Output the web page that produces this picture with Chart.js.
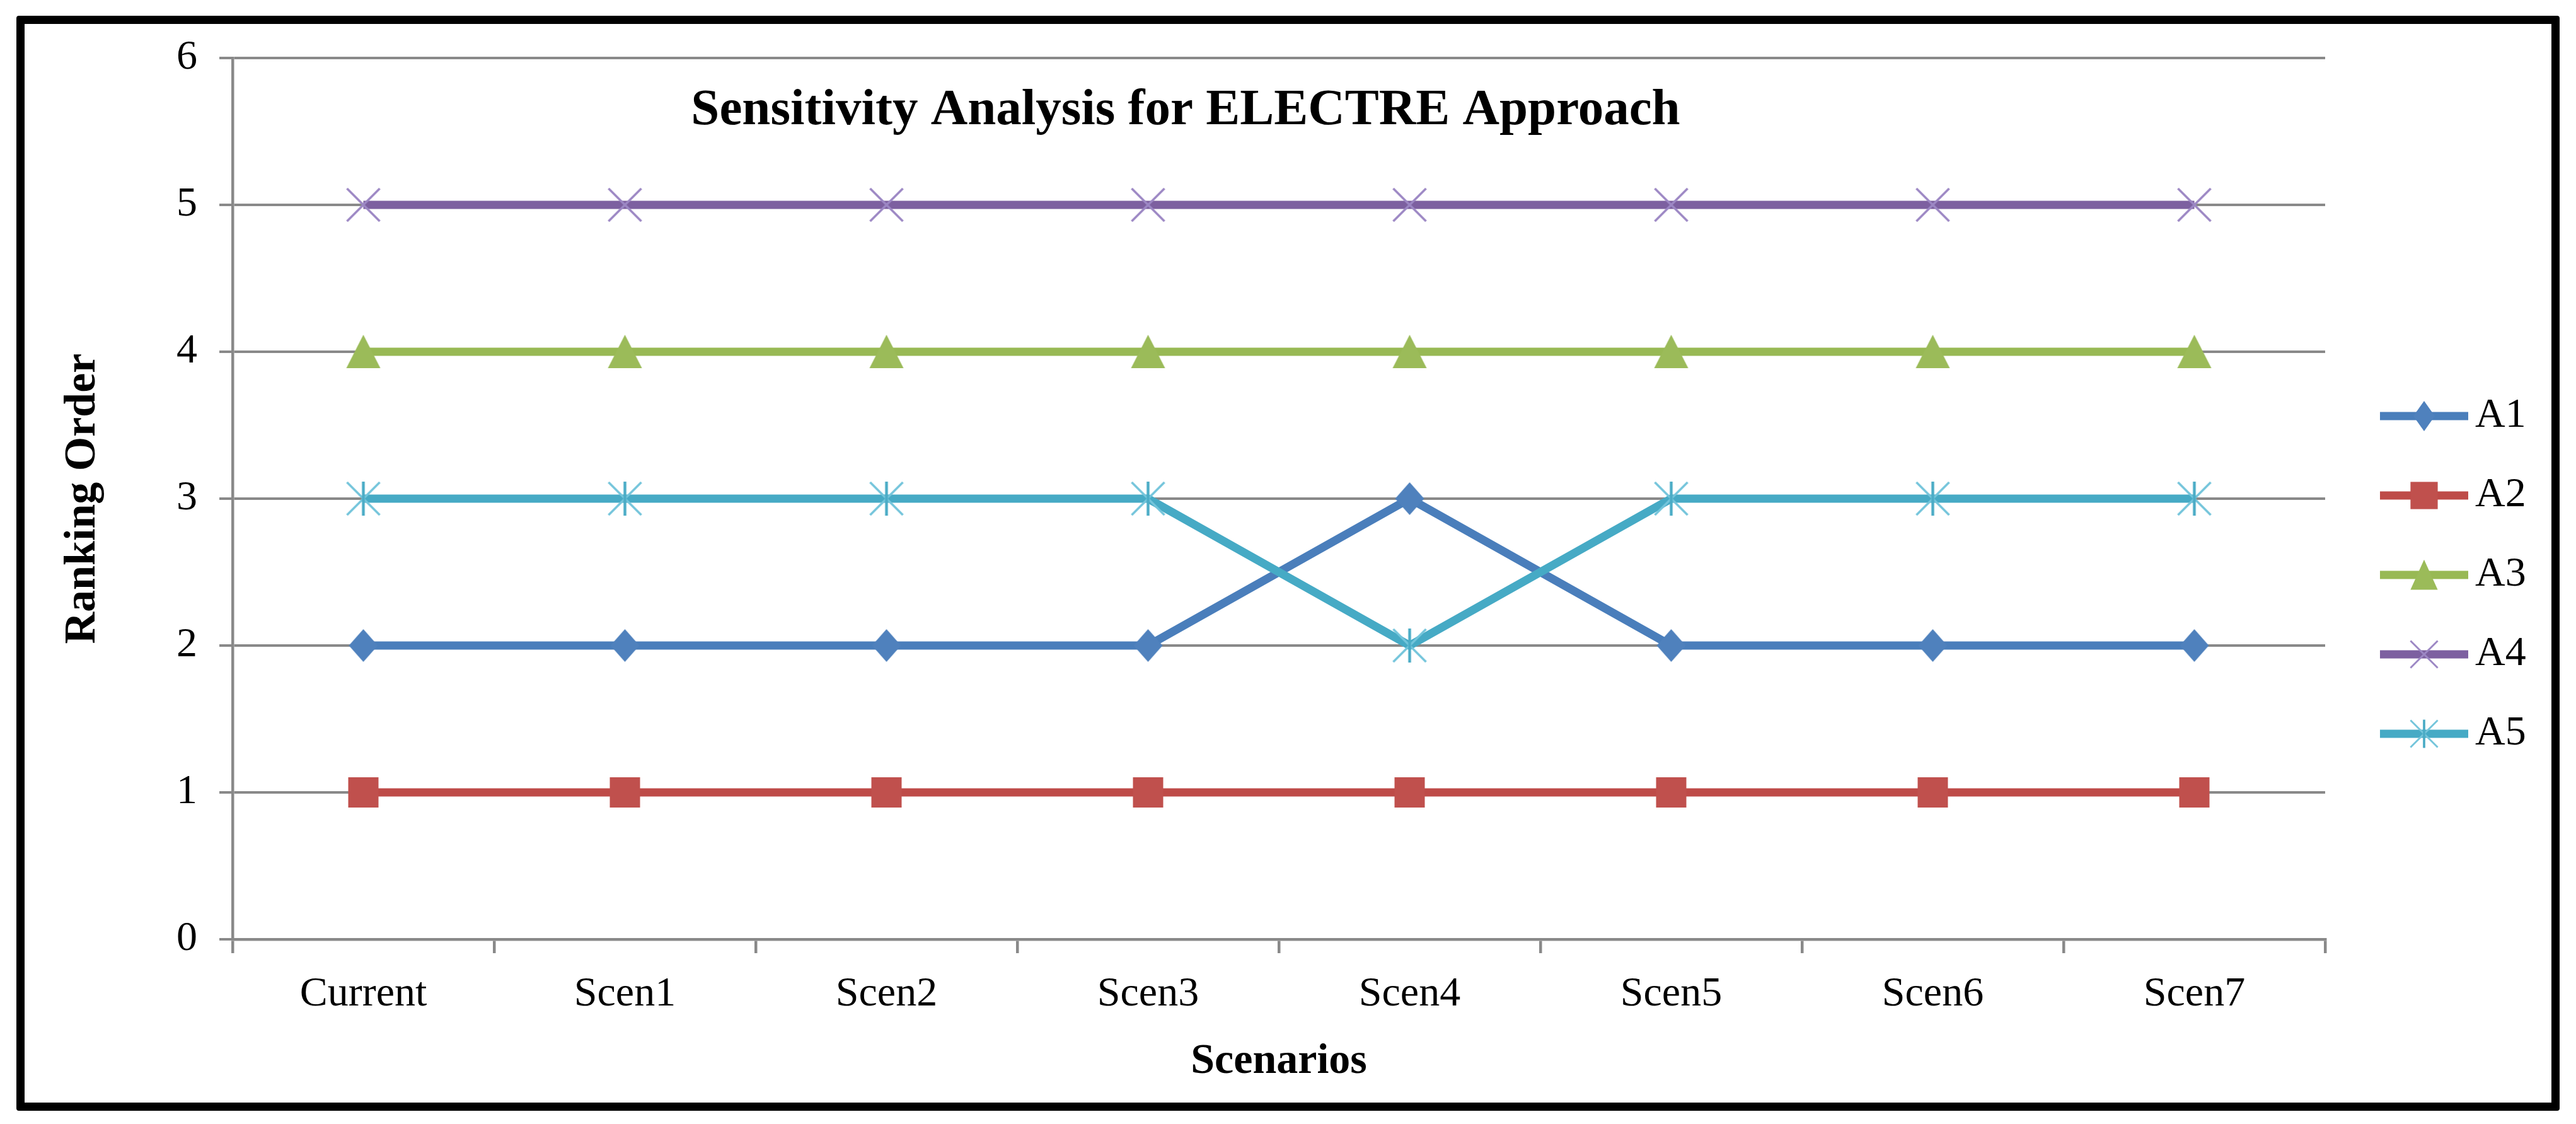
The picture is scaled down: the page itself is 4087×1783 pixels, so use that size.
<!DOCTYPE html>
<html>
<head>
<meta charset="utf-8">
<script src="https://cdn.jsdelivr.net/npm/chart.js@4.4.1/dist/chart.umd.min.js"></script>
<style>
  html, body { margin: 0; padding: 0; background: #fff; }
  #wrap { position: relative; width: 4087px; height: 1783px; background: #fff; }
  #chart { position: absolute; left: 0; top: 0; }
  #frame {
    position: absolute; left: 26px; top: 25px; width: 4035px; height: 1737px;
    box-sizing: border-box; border: 13px solid #000; border-radius: 4px; pointer-events: none;
  }
</style>
</head>
<body>
<div id="wrap">
  <canvas id="chart" width="4087" height="1783"></canvas>
  <div id="frame"></div>
</div>
<script>
// data
const scenarios = ['Current', 'Scen1', 'Scen2', 'Scen3', 'Scen4', 'Scen5', 'Scen6', 'Scen7'];
const seriesNames = ['A1', 'A2', 'A3', 'A4', 'A5'];
const a1 = [2, 2, 2, 2, 3, 2, 2, 2];
const a2 = [1, 1, 1, 1, 1, 1, 1, 1];
const a3 = [4, 4, 4, 4, 4, 4, 4, 4];
const a4 = [5, 5, 5, 5, 5, 5, 5, 5];
const a5 = [3, 3, 3, 3, 2, 3, 3, 3];
const yTicks = [0, 1, 2, 3, 4, 5, 6];
const titleText = 'Sensitivity Analysis for ELECTRE Approach';

const values = [a1, a2, a3, a4, a5];
const lineColors = ['#4A7EBB', '#BE4B48', '#98B954', '#7D60A0', '#46AAC5'];
const markerKinds = ['diamond', 'square', 'triangle', 'x', 'star'];
// legend markers are a bit smaller (and the diamond narrower) than in the plot
const legendMarkerScale = { diamond: [0.74, 0.92], square: [0.9, 0.9], triangle: [0.8, 0.9], x: [0.83, 0.83], star: [0.83, 0.83] };
const gridColor = '#898989';
const labelFont = '"Liberation Serif", "Times New Roman", serif';

Chart.defaults.font.family = labelFont;
Chart.defaults.color = '#000';

// excel-like marker shapes, drawn once into small canvases
function drawMarker(g, kind, cx, cy) {
  g.lineCap = 'butt';
  switch (kind) {
    case 'diamond':
      g.fillStyle = '#4F81BD';
      g.beginPath();
      g.moveTo(cx, cy - 26); g.lineTo(cx + 23, cy); g.lineTo(cx, cy + 26); g.lineTo(cx - 23, cy);
      g.closePath(); g.fill();
      break;
    case 'square':
      g.fillStyle = '#C0504D';
      g.fillRect(cx - 24, cy - 24, 48, 48);
      break;
    case 'triangle':
      g.fillStyle = '#9BBB59';
      g.beginPath();
      g.moveTo(cx, cy - 27); g.lineTo(cx + 27, cy + 26); g.lineTo(cx - 27, cy + 26);
      g.closePath(); g.fill();
      break;
    case 'x':
      g.strokeStyle = '#9C87C4'; g.lineWidth = 3.5;
      g.beginPath();
      g.moveTo(cx - 26, cy - 26); g.lineTo(cx + 26, cy + 26);
      g.moveTo(cx + 26, cy - 26); g.lineTo(cx - 26, cy + 26);
      g.stroke();
      break;
    case 'star':
      g.strokeStyle = '#74C5DB'; g.lineWidth = 3.5;
      g.beginPath();
      g.moveTo(cx - 26, cy - 26); g.lineTo(cx + 26, cy + 26);
      g.moveTo(cx + 26, cy - 26); g.lineTo(cx - 26, cy + 26);
      g.stroke();
      g.strokeStyle = '#4BACC6'; g.lineWidth = 4.5;
      g.beginPath();
      g.moveTo(cx, cy - 27); g.lineTo(cx, cy + 27);
      g.stroke();
      break;
  }
}

function makeMarker(kind) {
  const c = document.createElement('canvas');
  c.width = 60; c.height = 60;
  drawMarker(c.getContext('2d'), kind, 30, 30);
  return c;
}

function makeLegendIcon(kind, color) {
  const c = document.createElement('canvas');
  c.width = 189; c.height = 60;
  const g = c.getContext('2d');
  g.strokeStyle = color; g.lineWidth = 13;
  g.beginPath(); g.moveTo(49, 30); g.lineTo(189, 30); g.stroke();
  const [sx, sy] = legendMarkerScale[kind];
  g.save(); g.translate(119, 30); g.scale(sx, sy); drawMarker(g, kind, 0, 0); g.restore();
  return c;
}

const markerImgs = markerKinds.map(makeMarker);
const legendIcons = markerKinds.map((k, i) => makeLegendIcon(k, lineColors[i]));

// legend width, so the plot ends where it does in the picture
const legendFontSize = 66;
const legendPadding = 60;
const legendBoxWidth = 145;
const measure = document.createElement('canvas').getContext('2d');
measure.font = legendFontSize + 'px ' + labelFont;
const maxLabelW = Math.max(...seriesNames.map(n => measure.measureText(n).width));
const legendWidth = legendPadding + legendBoxWidth + legendFontSize / 2 + maxLabelW + 10;
const plotRight = 3689;
const padRight = 4087 - plotRight - legendWidth;

const chartTitle = {
  id: 'chartTitle',
  afterDraw(chart) {
    const { ctx, chartArea } = chart;
    ctx.save();
    ctx.font = 'bold 81px ' + labelFont;
    ctx.fillStyle = '#000';
    ctx.textAlign = 'center';
    ctx.textBaseline = 'alphabetic';
    ctx.fillText(titleText, chartArea.left + 1512, chartArea.top + 105);
    ctx.restore();
  }
};

const datasets = seriesNames.map((name, i) => ({
  label: name,
  data: values[i],
  borderColor: lineColors[i],
  backgroundColor: lineColors[i],
  borderWidth: 13,
  borderJoinStyle: 'round',
  tension: 0,
  pointStyle: markerImgs[i],
  pointRadius: 26,
  pointHoverRadius: 26,
  order: seriesNames.length - i
}));

new Chart(document.getElementById('chart'), {
  type: 'line',
  data: { labels: scenarios, datasets: datasets },
  options: {
    responsive: false,
    devicePixelRatio: 1,
    animation: false,
    layout: { padding: { left: 40, top: 92, bottom: 51, right: padRight } },
    plugins: {
      tooltip: { enabled: false },
      legend: {
        position: 'right',
        align: 'center',
        labels: {
          usePointStyle: true,
          pointStyleWidth: legendBoxWidth,
          padding: legendPadding,
          color: '#000',
          font: { size: legendFontSize },
          generateLabels: chart => Chart.defaults.plugins.legend.labels.generateLabels(chart)
            .map(item => Object.assign(item, { pointStyle: legendIcons[item.datasetIndex] })),
          sort: (a, b) => a.datasetIndex - b.datasetIndex
        }
      }
    },
    scales: {
      x: {
        offset: true,
        grid: {
          display: true, drawOnChartArea: false, drawTicks: true, tickLength: 22,
          offset: true, color: gridColor, lineWidth: 4.5
        },
        border: { display: true, color: gridColor, width: 4.5 },
        ticks: { color: '#000', font: { size: 66 }, padding: 26, maxRotation: 0, autoSkip: false },
        title: {
          display: true, text: 'Scenarios', color: '#000',
          font: { size: 68, weight: 'bold' }, padding: { top: 0, bottom: 7 }
        },
        afterFit: s => { s.height = 242; s.paddingLeft = 0; s.paddingRight = 0; }
      },
      y: {
        min: 0,
        max: 6,
        afterBuildTicks: s => { s.ticks = yTicks.map(v => ({ value: v })); },
        ticks: { color: '#000', font: { size: 66 }, padding: 35 },
        grid: { color: gridColor, lineWidth: 4, tickLength: 21, drawTicks: true },
        border: { display: true, color: gridColor, width: 4.5 },
        title: {
          display: true, text: 'Ranking Order', color: '#000',
          font: { size: 70, weight: 'bold' }, padding: { top: 50, bottom: 0 }
        },
        afterFit: s => { s.width = 329; s.paddingTop = 0; s.paddingBottom = 0; }
      }
    }
  },
  plugins: [chartTitle]
});
</script>
</body>
</html>
